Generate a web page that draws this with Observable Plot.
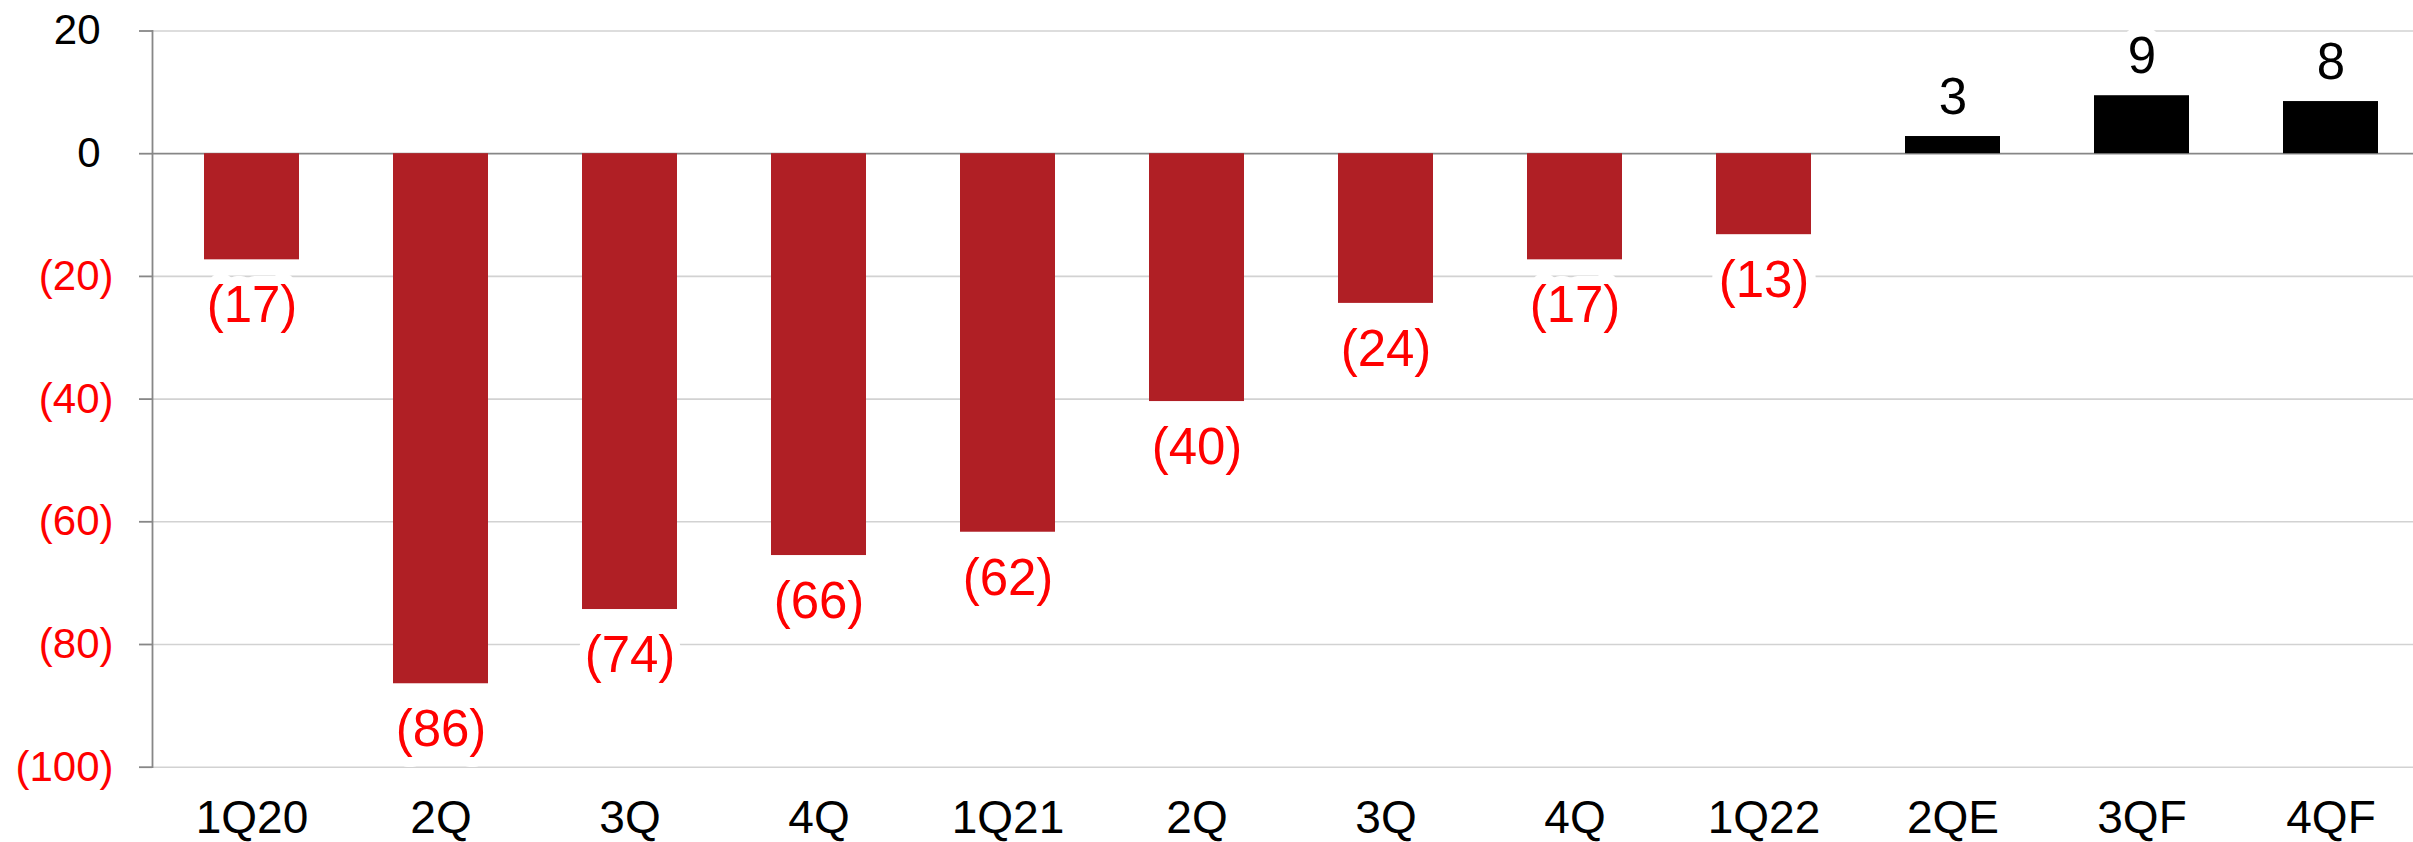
<!DOCTYPE html>
<html>
<head>
<meta charset="utf-8">
<script src="https://cdn.jsdelivr.net/npm/d3@7"></script>
<script src="https://cdn.jsdelivr.net/npm/@observablehq/plot@0.6"></script>
<style>
  html, body { margin: 0; padding: 0; background: #ffffff; }
  #chart svg { display: block; }
</style>
</head>
<body>
<div id="chart"></div>
<script>
// ---- data ----
const periods = ["1Q20","2Q20","3Q20","4Q20","1Q21","2Q21","3Q21","4Q21","1Q22","2Q22E","3Q22F","4Q22F"];
const tickLabels = ["1Q20","2Q","3Q","4Q","1Q21","2Q","3Q","4Q","1Q22","2QE","3QF","4QF"];
const values = [-17.3, -86.4, -74.3, -65.5, -61.7, -40.4, -24.4, -17.3, -13.2, 2.8, 9.45, 8.5];
const valueLabels = ["(17)","(86)","(74)","(66)","(62)","(40)","(24)","(17)","(13)","3","9","8"];
const yTicksNeg = [-20, -40, -60, -80, -100];
const yTicksPos = [0, 20];

// ---- build ----
const data = periods.map((p, i) => ({period: p, value: values[i], label: valueLabels[i]}));
const neg = data.filter(d => d.value < 0);
const pos = data.filter(d => d.value >= 0);
const labelOf = new Map(periods.map((p, i) => [p, tickLabels[i]]));

const RED_BAR = "#B01F25";
const RED_TEXT = "#FF0000";
const GRID = "#D2D2D2";
const AXIS = "#878787";

const chart = Plot.plot({
  width: 2413,
  height: 842,
  marginLeft: 152,
  marginRight: 0,
  marginTop: 30.5,
  marginBottom: 75.3,
  style: {fontFamily: '"Liberation Sans", Arial, sans-serif', background: "#ffffff", overflow: "visible"},
  x: {domain: periods, range: [151.5, 2429.1], paddingInner: 0.5, paddingOuter: 0.25},
  y: {domain: [-100, 20]},
  marks: [
    Plot.ruleY(yTicksNeg.concat([20]), {stroke: GRID, strokeWidth: 1.6}),
    Plot.ruleY([0], {stroke: AXIS, strokeWidth: 1.8}),
    Plot.frame({anchor: "left", stroke: AXIS, strokeWidth: 1.8}),
    Plot.axisY(yTicksNeg, {
      tickSize: 13, tickPadding: 26, tickFormat: d => `(${-d})`,
      fill: RED_TEXT, stroke: AXIS, strokeWidth: 1.8, fontSize: 42, label: null
    }),
    Plot.axisY(yTicksPos, {
      tickSize: 13, tickPadding: 39, tickFormat: d => String(d),
      fill: "#000000", stroke: AXIS, strokeWidth: 1.8, fontSize: 42, label: null
    }),
    Plot.axisX({
      tickSize: 0, tickPadding: 33, tickFormat: d => labelOf.get(d),
      fill: "#000000", fontSize: 46, label: null
    }),
    Plot.barY(neg, {x: "period", y: "value", fill: RED_BAR}),
    Plot.barY(pos, {x: "period", y: "value", fill: "#000000"}),
    Plot.text(neg, {
      x: "period", y: "value", text: "label", dy: 46,
      fill: RED_TEXT, stroke: "#ffffff", strokeWidth: 20, strokeLinejoin: "round", fontSize: 51
    }),
    Plot.text(pos, {
      x: "period", y: "value", text: "label", dy: -39,
      fill: "#000000", stroke: "#ffffff", strokeWidth: 20, strokeLinejoin: "round", fontSize: 51
    })
  ]
});
document.getElementById("chart").appendChild(chart);
</script>
</body>
</html>
